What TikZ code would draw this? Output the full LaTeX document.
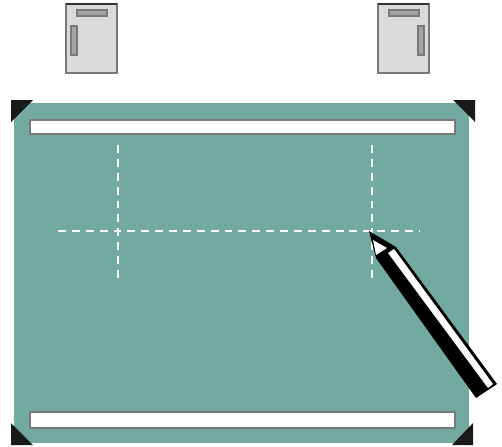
\documentclass[tikz,border=0pt]{standalone}
\usepackage{tikz}
\definecolor{boardgreen}{HTML}{72AA9F}
\definecolor{doorgrey}{HTML}{D9DADA}
\definecolor{edgegrey}{HTML}{77797A}
\definecolor{gripgrey}{HTML}{A3A5A5}

\begin{document}
\begin{tikzpicture}[
  x=0.02cm, y=-0.02cm,
  door/.style={fill=doorgrey, draw=edgegrey, line width=0.6pt},
  grip/.style={fill=gripgrey, draw=edgegrey, line width=0.6pt},
  strip/.style={fill=white, draw=edgegrey, line width=0.7pt},
  corner/.style={fill=black!90},
  cutline/.style={draw=white!95!boardgreen, line width=1.4pt, dash pattern=on 4.5pt off 3.4pt},
  pencilpart/.style={fill=black},
]
\useasboundingbox (0,0) rectangle (502,446);

% ---- doors above the board -------------------------------------------
\draw[door] (66,4) rectangle (117,73);
\draw[grip] (77,10) rectangle (107,16);
\draw[grip] (71,26) rectangle (77,55);
\draw[door] (378,4) rectangle (429,73);
\draw[grip] (389,10) rectangle (419,16);
\draw[grip] (418,26) rectangle (424,55);
\draw[black!80, line width=0.6pt] (66,4) -- (117,4);
\draw[black!80, line width=0.6pt] (378,4) -- (429,4);

% ---- board and strips -------------------------------------------------
\fill[boardgreen] (14,103) rectangle (469,443);
\draw[strip] (30,120) rectangle (455,134);
\draw[strip] (30,412) rectangle (455,428);

% ---- corners -----------------------------------------------------------
\fill[corner] (11,100) -- (33,100) -- (11,122) -- cycle;
\fill[corner] (453,100) -- (475,100) -- (475,122) -- cycle;
\fill[corner] (11,423) -- (33,445) -- (11,445) -- cycle;
\fill[corner] (473,423) -- (473,445) -- (452,445) -- cycle;

% ---- cut lines ---------------------------------------------------------
\draw[cutline] (58,231) -- (420,231);
\draw[cutline] (118,145) -- (118,278);
\draw[cutline] (372,145) -- (372,280);

% ---- pencil ------------------------------------------------------------
\fill[pencilpart] (369,231) -- (396,247) -- (497,384) -- (476,398) -- (376,258) -- cycle;
\fill[white] (373,240) -- (387,248) -- (376,255) -- cycle;
\fill[white] (388,253) -- (394,249) -- (493,384) -- (488,388) -- cycle;

\end{tikzpicture}
\end{document}
